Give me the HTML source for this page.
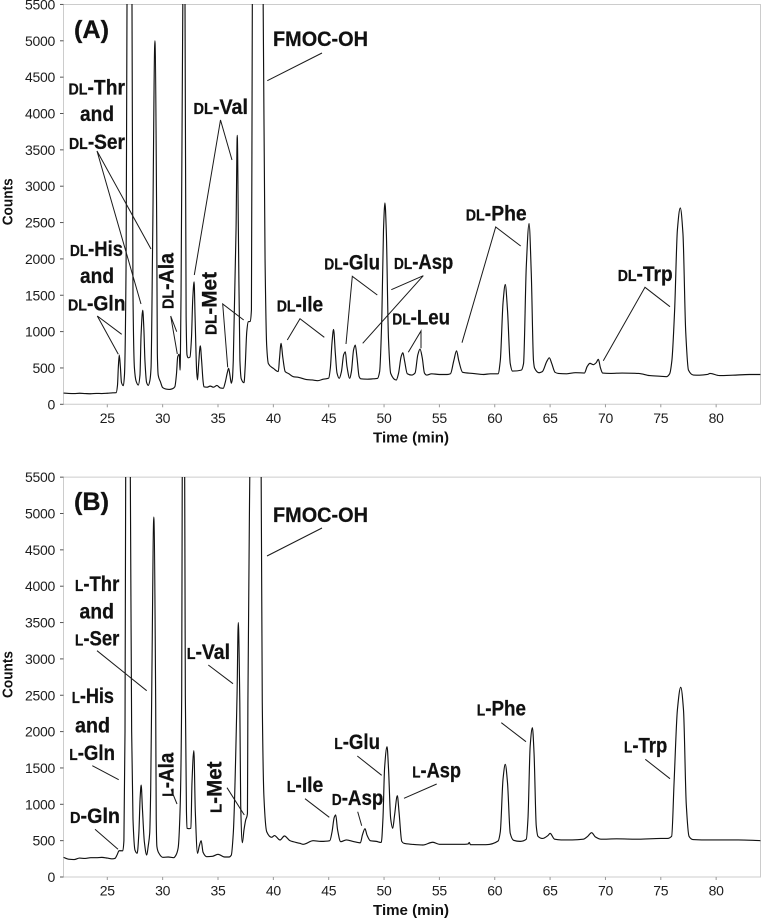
<!DOCTYPE html>
<html lang="en">
<head>
<meta charset="utf-8">
<title>Chromatograms A and B</title>
<style>
html,body{margin:0;padding:0;background:#fff;width:761px;height:921px;overflow:hidden}
svg{display:block}
text{font-family:"Liberation Sans",sans-serif;fill:#111}
.lab{font-weight:700;font-size:21px;stroke:#111;stroke-width:.25px}
.sc{font-size:15.5px}
.lead{stroke:#1a1a1a;stroke-width:1;fill:none}
.tick{font-size:14px;letter-spacing:-.3px;fill:#1c1c1c}
.title{font-weight:700;font-size:14.5px}
</style>
</head>
<body>
<svg id="chart" xmlns="http://www.w3.org/2000/svg" width="761" height="921" viewBox="0 0 761 921">
<defs>
<clipPath id="clipA"><rect x="63" y="4" width="698" height="401"/></clipPath>
<clipPath id="clipB"><rect x="63" y="477" width="698" height="401"/></clipPath>
</defs>
<g id="panelA"></g>
<g id="panelB"></g>

<g>
<text class="lab" x="74" y="38" style="font-size:25px" textLength="35" lengthAdjust="spacingAndGlyphs">(A)</text>
<text class="lab" x="273" y="46" textLength="95" lengthAdjust="spacingAndGlyphs">FMOC-OH</text>
<text class="lab" x="68.5" y="94.5" textLength="56.5" lengthAdjust="spacingAndGlyphs"><tspan class="sc">DL</tspan>-Thr</text>
<text class="lab" x="80" y="121" textLength="34" lengthAdjust="spacingAndGlyphs">and</text>
<text class="lab" x="69" y="149" textLength="56" lengthAdjust="spacingAndGlyphs"><tspan class="sc">DL</tspan>-Ser</text>
<text class="lab" x="193.5" y="114" textLength="54.5" lengthAdjust="spacingAndGlyphs"><tspan class="sc">DL</tspan>-Val</text>
<text class="lab" x="70" y="256" textLength="53" lengthAdjust="spacingAndGlyphs"><tspan class="sc">DL</tspan>-His</text>
<text class="lab" x="80" y="283" textLength="34" lengthAdjust="spacingAndGlyphs">and</text>
<text class="lab" x="68" y="310.5" textLength="57.5" lengthAdjust="spacingAndGlyphs"><tspan class="sc">DL</tspan>-Gln</text>
<text class="lab" transform="translate(173.3,309) rotate(-90)" textLength="56" lengthAdjust="spacingAndGlyphs"><tspan class="sc">DL</tspan>-Ala</text>
<text class="lab" transform="translate(216.7,335) rotate(-90)" textLength="63" lengthAdjust="spacingAndGlyphs"><tspan class="sc">DL</tspan>-Met</text>
<text class="lab" x="276.7" y="311.5" textLength="46.5" lengthAdjust="spacingAndGlyphs"><tspan class="sc">DL</tspan>-Ile</text>
<text class="lab" x="324.3" y="269.5" textLength="55.7" lengthAdjust="spacingAndGlyphs"><tspan class="sc">DL</tspan>-Glu</text>
<text class="lab" x="394" y="269" textLength="59.3" lengthAdjust="spacingAndGlyphs"><tspan class="sc">DL</tspan>-Asp</text>
<text class="lab" x="392.3" y="324.5" textLength="57.7" lengthAdjust="spacingAndGlyphs"><tspan class="sc">DL</tspan>-Leu</text>
<text class="lab" x="465.7" y="220.7" textLength="61" lengthAdjust="spacingAndGlyphs"><tspan class="sc">DL</tspan>-Phe</text>
<text class="lab" x="617.7" y="281" textLength="55" lengthAdjust="spacingAndGlyphs"><tspan class="sc">DL</tspan>-Trp</text>
<polyline class="lead" points="267.3,80.7 322,53"/>
<polyline class="lead" points="141,304 97,151 151,249"/>
<polyline class="lead" points="194.3,275 220.5,120 232,160"/>
<polyline class="lead" points="121.7,334.3 97.3,316 118.3,354.3"/>
<polyline class="lead" points="176.7,331.7 170.7,316 177.3,354"/>
<polyline class="lead" points="243.7,320 222.7,304 227.7,367.3"/>
<polyline class="lead" points="287.3,340 300,318.7 324.3,337.3"/>
<polyline class="lead" points="377.3,295 352.3,276.3 346,344"/>
<polyline class="lead" points="391.3,289.7 423.3,275.7 362.7,343.3"/>
<polyline class="lead" points="408.3,352.3 421,331 421,348.3"/>
<polyline class="lead" points="520.7,246 495.7,227 462,342.7"/>
<polyline class="lead" points="670,306.7 645,287.3 603.3,360.7"/>
</g>

<g>
<text class="lab" x="74" y="510" style="font-size:25px" textLength="35" lengthAdjust="spacingAndGlyphs">(B)</text>
<text class="lab" x="273" y="522" textLength="95" lengthAdjust="spacingAndGlyphs">FMOC-OH</text>
<text class="lab" x="75" y="591" textLength="44.3" lengthAdjust="spacingAndGlyphs"><tspan class="sc">L</tspan>-Thr</text>
<text class="lab" x="79.5" y="618.3" textLength="34.5" lengthAdjust="spacingAndGlyphs">and</text>
<text class="lab" x="75" y="645.7" textLength="44.3" lengthAdjust="spacingAndGlyphs"><tspan class="sc">L</tspan>-Ser</text>
<text class="lab" x="186.7" y="659" textLength="43.3" lengthAdjust="spacingAndGlyphs"><tspan class="sc">L</tspan>-Val</text>
<text class="lab" x="71.7" y="703" textLength="42.3" lengthAdjust="spacingAndGlyphs"><tspan class="sc">L</tspan>-His</text>
<text class="lab" x="75" y="732.7" textLength="35" lengthAdjust="spacingAndGlyphs">and</text>
<text class="lab" x="69.3" y="760" textLength="45.7" lengthAdjust="spacingAndGlyphs"><tspan class="sc">L</tspan>-Gln</text>
<text class="lab" x="70" y="823" textLength="50" lengthAdjust="spacingAndGlyphs"><tspan class="sc">D</tspan>-Gln</text>
<text class="lab" transform="translate(173.3,796.7) rotate(-90)" textLength="44" lengthAdjust="spacingAndGlyphs"><tspan class="sc">L</tspan>-Ala</text>
<text class="lab" transform="translate(221.7,813) rotate(-90)" textLength="51.5" lengthAdjust="spacingAndGlyphs"><tspan class="sc">L</tspan>-Met</text>
<text class="lab" x="286.7" y="792" textLength="36.6" lengthAdjust="spacingAndGlyphs"><tspan class="sc">L</tspan>-Ile</text>
<text class="lab" x="331.7" y="805" textLength="51.6" lengthAdjust="spacingAndGlyphs"><tspan class="sc">D</tspan>-Asp</text>
<text class="lab" x="334.3" y="749" textLength="45.7" lengthAdjust="spacingAndGlyphs"><tspan class="sc">L</tspan>-Glu</text>
<text class="lab" x="412.3" y="777.7" textLength="48.7" lengthAdjust="spacingAndGlyphs"><tspan class="sc">L</tspan>-Asp</text>
<text class="lab" x="476.7" y="715.7" textLength="49.3" lengthAdjust="spacingAndGlyphs"><tspan class="sc">L</tspan>-Phe</text>
<text class="lab" x="624" y="752.7" textLength="43.3" lengthAdjust="spacingAndGlyphs"><tspan class="sc">L</tspan>-Trp</text>
<polyline class="lead" points="267,556 322,528"/>
<polyline class="lead" points="97,650.7 146.7,690.7"/>
<polyline class="lead" points="208.3,665 233,683.7"/>
<polyline class="lead" points="92.3,765.7 118.7,779.7"/>
<polyline class="lead" points="95,829.3 118,849.3"/>
<polyline class="lead" points="171,789.3 177,804"/>
<polyline class="lead" points="227,787.7 244.3,815"/>
<polyline class="lead" points="305,798.7 329.3,817.3"/>
<polyline class="lead" points="357.7,811.7 361.7,825.7"/>
<polyline class="lead" points="357.3,756 381.7,775.3"/>
<polyline class="lead" points="404,798.3 436.7,784"/>
<polyline class="lead" points="501.3,722.7 526,741.7"/>
<polyline class="lead" points="645.3,759.3 670,778.7"/>
</g>
</svg>

<script>
const xTickLabels = [25,30,35,40,45,50,55,60,65,70,75,80];
const yTickLabels = [0,500,1000,1500,2000,2500,3000,3500,4000,4500,5000,5500];

const timesA = [21.05,21.5,22,22.5,23,23.5,24,24.5,25,25.5,25.8,25.92,26,26.08,26.18,26.28,26.45,26.55,26.7,26.78,27,27.23,27.32,27.45,27.6,27.8,27.95,28.05,28.2,28.3,28.4,28.55,28.7,28.85,28.95,29.1,29.3,29.47,29.52,29.6,29.8,30,30.3,30.6,30.9,31.1,31.25,31.36,31.5,31.57,31.66,31.82,31.92,32.02,32.12,32.2,32.3,32.47,32.6,32.72,32.84,32.93,33.08,33.15,33.25,33.4,33.52,33.65,33.73,34,34.3,34.6,34.9,35.2,35.47,35.65,35.85,35.96,36.08,36.2,36.3,36.38,36.63,36.74,36.84,36.98,37.1,37.35,37.45,37.6,37.73,37.9,38.02,38.1,38.6,39.08,39.25,39.4,39.55,40,40.45,40.55,40.7,40.85,41.07,41.4,41.8,42.3,43,43.5,44,44.5,45,45.15,45.3,45.44,45.6,45.75,45.95,46.15,46.35,46.5,46.65,46.9,47.05,47.25,47.4,47.55,47.75,47.9,48.5,49,49.4,49.6,49.8,49.95,50.08,50.2,50.4,50.6,51.1,51.3,51.55,51.7,51.85,52.1,52.5,52.8,53.05,53.25,53.45,53.65,53.85,54.3,55,55.7,56,56.3,56.55,56.75,57.1,58,59,59.6,60.3,60.5,60.75,60.95,61.15,61.4,61.6,62.4,62.6,62.85,63.1,63.3,63.5,63.6,64,64.3,64.7,64.93,65.15,65.45,65.74,66.5,67.3,68.1,68.35,68.6,68.9,69.15,69.36,69.55,69.75,70.5,71.5,73,74,75,75.5,75.8,76,76.25,76.5,76.76,77,77.25,77.5,77.95,78.5,79.2,79.45,80.3,81.5,83,84];
const countsA = [155,150,148,152,148,145,150,148,152,158,160,260,520,677,520,300,256,400,2000,5500,9000,5500,1500,500,320,265,400,950,1295,1050,600,300,260,330,500,2300,5000,2300,700,400,310,230,210,205,215,240,420,654,690,470,1500,5500,7000,5500,1200,680,640,650,900,1450,1685,1200,430,335,550,805,600,320,240,235,250,235,260,225,220,300,440,495,400,290,350,600,2400,3700,2400,600,350,297,500,1000,1135,1140,1300,5500,12000,5500,2000,800,560,495,450,620,838,650,450,420,380,370,340,335,325,345,360,500,850,1030,700,430,357,450,680,722,520,357,450,750,814,650,380,350,345,350,355,450,1200,2400,2770,2400,900,425,334,420,660,709,600,420,402,430,680,760,640,430,402,420,410,410,420,600,736,600,440,425,410,420,420,600,1400,1648,1300,560,457,470,560,1900,2486,1800,600,497,434,450,590,640,560,440,425,420,435,430,520,563,545,570,618,500,430,425,430,425,395,385,380,420,600,1300,2400,2700,2350,1000,470,402,400,410,425,395,400,410,410];

const timesB = [21.05,21.5,22,22.5,23,23.5,24,24.5,25,25.5,25.7,25.9,26.07,26.4,26.5,26.6,26.66,26.87,27.08,27.2,27.32,27.5,27.7,27.85,27.97,28.06,28.17,28.35,28.56,28.7,28.83,28.92,29.03,29.2,29.37,29.42,29.48,29.65,30,30.5,31,31.2,31.4,31.57,31.72,31.77,31.88,31.99,32.05,32.15,32.2,32.4,32.55,32.65,32.82,32.95,33.15,33.3,33.48,33.65,33.97,34.5,35,35.6,36,36.2,36.38,36.72,36.83,36.97,37.05,37.2,37.35,37.5,37.66,37.7,37.87,38.4,38.9,39,39.15,39.4,39.85,40.1,40.6,41,41.5,42.4,42.7,43.6,44.3,45.1,45.3,45.5,45.63,45.8,46.08,46.6,47.2,47.86,48.05,48.28,48.45,48.76,49.3,49.75,49.9,50.05,50.27,50.4,50.6,50.78,50.95,51.2,51.35,51.6,51.8,52.5,53.5,54.4,55,56,57.3,57.6,57.7,57.8,59.2,60.3,60.5,60.75,60.95,61.15,61.4,61.7,62.3,62.85,63,63.2,63.4,63.55,63.75,63.9,64.3,64.8,65,65.4,66,67,68,68.4,68.75,69.1,69.6,71,73,75,75.6,75.98,76.2,76.5,76.8,77.05,77.3,77.55,77.9,79,80,82,84];
const countsB = [270,245,240,260,255,265,265,270,260,250,257,310,362,360,500,2000,5500,9000,5500,2000,800,371,326,600,1100,1265,950,480,302,430,603,1200,2800,4950,2400,800,420,330,271,275,265,300,400,900,2500,5500,7000,5500,2500,900,670,665,670,1300,1737,900,326,420,500,340,280,285,312,275,275,300,600,2500,3500,2400,1000,472,650,784,876,2400,5500,12000,5500,2400,1100,623,546,570,509,564,500,463,450,500,490,500,620,820,853,650,486,510,490,470,580,665,580,500,490,475,800,1500,1792,1500,800,670,850,1118,900,490,463,450,440,478,450,450,450,455,475,445,445,495,620,1350,1550,1300,600,505,490,520,800,1800,2053,1700,700,560,530,570,600,520,510,510,520,560,610,550,520,525,520,530,530,560,1300,2300,2610,2300,1000,560,515,510,510,510,500];

const SVGNS = 'http://www.w3.org/2000/svg';
const xPixel = t => 107.3 + (t - 25) * 11.07;

function monotonePath(xs, ys) {
  const n = xs.length;
  const dx = [], m = [], s = [];
  for (let i = 0; i < n - 1; i++) {
    dx.push(xs[i + 1] - xs[i]);
    m.push((ys[i + 1] - ys[i]) / dx[i]);
  }
  s.push(m[0]);
  for (let i = 1; i < n - 1; i++) {
    if (m[i - 1] * m[i] <= 0) { s.push(0); continue; }
    const w1 = 2 * dx[i] + dx[i - 1], w2 = dx[i] + 2 * dx[i - 1];
    s.push((w1 + w2) / (w1 / m[i - 1] + w2 / m[i]));
  }
  s.push(m[n - 2]);
  let d = 'M' + xs[0].toFixed(2) + ' ' + ys[0].toFixed(2);
  for (let i = 0; i < n - 1; i++) {
    const h = dx[i] / 3;
    d += 'C' + (xs[i] + h).toFixed(2) + ' ' + (ys[i] + s[i] * h).toFixed(2) + ' ' +
         (xs[i + 1] - h).toFixed(2) + ' ' + (ys[i + 1] - s[i + 1] * h).toFixed(2) + ' ' +
         xs[i + 1].toFixed(2) + ' ' + ys[i + 1].toFixed(2);
  }
  return d;
}

function drawPanel(group, clipId, y0, times, counts, letter) {
  const yPixel = c => y0 - c * 0.0727;
  const yTop = yPixel(5500);

  const frame = document.createElementNS(SVGNS, 'path');
  
  
  frame.setAttribute('d', 'M63.5 ' + y0 + 'V' + yTop + 'H760.5V' + y0 + 'Z');
  frame.setAttribute('fill', 'none');
  frame.setAttribute('stroke', '#cccccc');
  frame.setAttribute('stroke-width', '1');
  group.appendChild(frame);

  for (const v of yTickLabels) {
    const mark = document.createElementNS(SVGNS, 'line');
    
    
    mark.setAttribute('x1', 60);
    mark.setAttribute('x2', 63.5);
    mark.setAttribute('y1', yPixel(v));
    mark.setAttribute('y2', yPixel(v));
    mark.setAttribute('stroke', '#555');
    group.appendChild(mark);
    const label = document.createElementNS(SVGNS, 'text');
    
    
    label.setAttribute('class', 'tick');
    label.setAttribute('x', 55);
    label.setAttribute('y', yPixel(v) + 5);
    label.setAttribute('text-anchor', 'end');
    label.textContent = v;
    group.appendChild(label);
  }

  for (const v of xTickLabels) {
    const mark = document.createElementNS(SVGNS, 'line');
    
    
    mark.setAttribute('x1', xPixel(v));
    mark.setAttribute('x2', xPixel(v));
    mark.setAttribute('y1', y0);
    mark.setAttribute('y2', y0 + 3);
    mark.setAttribute('stroke', '#999');
    group.appendChild(mark);
    const label = document.createElementNS(SVGNS, 'text');
    
    
    label.setAttribute('class', 'tick');
    label.setAttribute('x', xPixel(v));
    label.setAttribute('y', y0 + 18.5);
    label.setAttribute('text-anchor', 'middle');
    label.textContent = v;
    group.appendChild(label);
  }

  const xTitle = document.createElementNS(SVGNS, 'text');
  
  
  xTitle.setAttribute('class', 'title');
  xTitle.setAttribute('x', 373);
  xTitle.setAttribute('y', y0 + 38);
  xTitle.setAttribute('textLength', '76');
  xTitle.setAttribute('lengthAdjust', 'spacingAndGlyphs');
  xTitle.textContent = 'Time (min)';
  group.appendChild(xTitle);

  const yTitle = document.createElementNS(SVGNS, 'text');
  
  
  yTitle.setAttribute('class', 'title');
  yTitle.setAttribute('transform', 'translate(12.5,' + (y0 - 179) + ') rotate(-90)');
  yTitle.setAttribute('textLength', '47');
  yTitle.setAttribute('lengthAdjust', 'spacingAndGlyphs');
  yTitle.textContent = 'Counts';
  group.appendChild(yTitle);

  const trace = document.createElementNS(SVGNS, 'path');
  
  
  trace.setAttribute('d', monotonePath(times.map(xPixel), counts.map(yPixel)));
  trace.setAttribute('fill', 'none');
  trace.setAttribute('stroke', '#111');
  trace.setAttribute('stroke-width', '1.15');
  trace.setAttribute('stroke-linejoin', 'round');
  trace.setAttribute('clip-path', 'url(#' + clipId + ')');
  group.appendChild(trace);
}

drawPanel(document.getElementById('panelA'), 'clipA', 404.3, timesA, countsA, 'a');
drawPanel(document.getElementById('panelB'), 'clipB', 877, timesB, countsB, 'b');
</script>
</body>
</html>
